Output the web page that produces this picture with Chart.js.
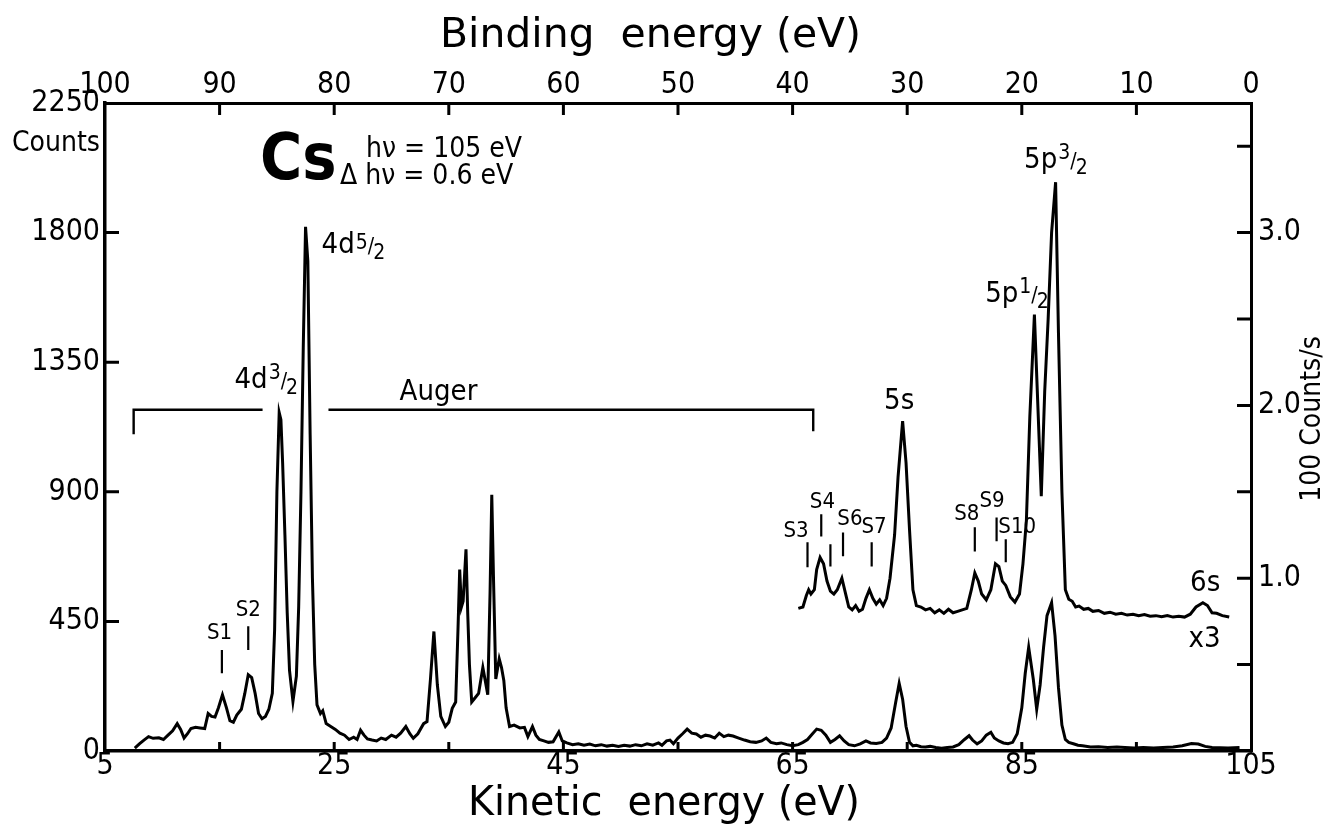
<!DOCTYPE html>
<html><head><meta charset="utf-8">
<script src="https://cdn.jsdelivr.net/npm/chart.js@4.4.1/dist/chart.umd.min.js"></script>
<style>html,body{margin:0;padding:0;background:#fff;}#wrap{width:1331px;height:831px;}</style>
</head><body><div id="wrap"><canvas id="c" width="1331" height="831"></canvas></div>
<script>
const FONT = "'DejaVu Sans Condensed','Liberation Sans Narrow','Arial Narrow',sans-serif";

// ---------- tick labels ----------
const kineticTicks = [5, 25, 45, 65, 85, 105];
const kineticMinor = [15, 35, 55, 75, 95];
const bindingTicks = [100, 90, 80, 70, 60, 50, 40, 30, 20, 10, 0];
const countTicks = [0, 450, 900, 1350, 1800, 2250];
const rateTicks = [0, 0.5, 1.0, 1.5, 2.0, 2.5, 3.0, 3.5];
const rateLabelled = [1.0, 2.0, 3.0];

// ---------- main spectrum (kinetic energy eV, counts) ----------
const mainKE = [7.6,8.0,8.4,8.8,9.2,9.7,10.1,10.5,10.9,11.3,11.6,11.9,12.2,12.5,12.9,13.3,13.7,14.0,14.3,14.6,14.9,15.25,15.6,15.9,16.2,16.5,16.9,17.2,17.5,17.8,18.1,18.4,18.7,19.0,19.3,19.6,19.8,20.0,20.2,20.35,20.5,20.7,20.9,21.1,21.4,21.7,21.9,22.1,22.3,22.5,22.7,22.9,23.1,23.3,23.5,23.8,24.0,24.3,24.7,25.1,25.5,25.9,26.3,26.7,27.0,27.3,27.6,27.9,28.3,28.7,29.1,29.5,30.0,30.4,30.8,31.25,31.6,31.9,32.3,32.8,33.1,33.4,33.7,34.0,34.3,34.7,35.0,35.3,35.6,35.8,35.95,36.1,36.25,36.5,36.65,36.8,37.0,37.3,37.6,37.97,38.2,38.4,38.6,38.75,38.9,39.1,39.4,39.6,39.8,40.0,40.3,40.7,41.2,41.6,41.9,42.3,42.6,42.9,43.3,43.7,44.1,44.6,44.9,45.3,45.8,46.3,46.8,47.3,47.8,48.3,48.8,49.3,49.8,50.3,50.8,51.3,51.8,52.3,52.8,53.3,53.6,54.0,54.3,54.6,55.0,55.4,55.8,56.2,56.6,57.0,57.4,57.8,58.2,58.6,59.0,59.4,59.8,60.3,60.8,61.3,61.8,62.3,62.7,63.1,63.6,64.0,64.5,65.0,65.5,65.9,66.3,66.7,67.1,67.5,67.9,68.3,68.7,69.1,69.5,69.9,70.4,70.9,71.4,71.8,72.3,72.8,73.2,73.6,74.0,74.3,74.6,74.9,75.2,75.5,75.8,76.2,76.6,77.0,77.5,78.0,78.5,79.0,79.5,80.0,80.4,80.7,81.1,81.5,81.9,82.3,82.6,83.0,83.4,83.8,84.2,84.6,85.0,85.3,85.6,86.0,86.3,86.6,86.9,87.2,87.6,87.9,88.2,88.5,88.8,89.1,89.5,89.9,90.3,91.0,91.7,92.5,93.3,94.0,94.8,95.6,96.5,97.3,98.2,99.0,99.8,100.4,101.0,101.6,102.3,103.0,104.0,104.6];
const mainCounts = [10,25,38,50,44,46,40,55,70,95,75,45,60,78,82,80,78,130,120,118,150,195,150,105,100,125,145,200,265,255,200,130,112,120,145,200,420,900,1175,1150,1000,750,480,280,172,260,500,900,1400,1820,1700,1100,600,300,160,130,140,95,85,75,62,55,40,48,40,72,55,42,38,35,45,40,55,48,62,85,60,44,60,95,102,250,415,230,120,85,100,148,170,420,630,500,520,700,480,300,170,185,200,290,240,195,550,890,600,250,320,290,245,150,85,90,80,82,50,85,55,40,35,30,32,66,35,28,22,25,20,24,18,22,17,20,16,20,17,22,18,25,20,28,20,35,38,25,45,60,76,62,59,48,55,52,45,62,50,55,52,45,38,32,30,35,45,30,25,28,22,18,22,30,40,58,76,72,55,30,40,53,35,22,18,25,35,28,26,30,45,80,170,235,180,85,30,18,20,15,14,16,12,10,12,14,22,40,53,38,25,35,55,65,45,35,28,25,30,60,150,270,360,250,145,230,360,470,515,400,220,90,40,30,25,20,18,14,15,12,14,12,10,12,10,12,14,18,26,24,16,12,11,10,12];

// ---------- x3 magnified trace (kinetic energy eV, counts on left scale) ----------
const x3KE = [65.5,65.9,66.2,66.4,66.6,66.9,67.1,67.4,67.7,68.0,68.3,68.6,68.9,69.3,69.6,69.9,70.2,70.5,70.8,71.1,71.4,71.7,72.0,72.3,72.6,72.9,73.2,73.5,73.9,74.2,74.6,74.9,75.2,75.5,75.8,76.2,76.6,77.0,77.4,77.8,78.2,78.6,79.0,79.4,79.8,80.2,80.6,80.9,81.2,81.5,81.9,82.3,82.7,83.0,83.3,83.6,84.0,84.4,84.8,85.1,85.4,85.7,86.1,86.4,86.7,87.0,87.3,87.6,87.95,88.2,88.5,88.8,89.1,89.4,89.7,90.0,90.4,90.8,91.2,91.7,92.2,92.7,93.2,93.7,94.2,94.7,95.2,95.7,96.2,96.7,97.2,97.7,98.2,98.7,99.2,99.7,100.2,100.8,101.2,101.6,102.0,102.5,103.1];
const x3Counts = [495,500,540,560,545,560,630,672,650,590,555,545,560,600,550,500,490,505,485,492,530,560,530,510,525,505,530,600,750,950,1145,1000,770,560,505,500,490,495,480,490,478,492,480,485,490,495,560,618,590,545,525,560,650,640,590,575,535,517,545,650,800,1160,1515,1200,885,1250,1500,1800,1975,1450,900,560,527,520,500,503,492,495,485,488,478,482,475,478,472,475,470,474,468,470,466,470,465,468,465,475,500,515,505,480,478,470,465];

// ---------- satellite markers ----------
const satNames   = ['S1','S2','S3','S4','','S6','S7','S8','S9','S10'];
const satKE      = [15.2,17.5,66.3,67.5,68.3,69.4,71.9,80.9,82.8,83.6];
const satLow     = [270,351,638,745,641,676,641,693,728,655];
const satHigh    = [351,433,725,822,718,759,725,777,811,735];
const satLabelKE = [15.0,17.5,65.3,67.6,null,70.0,72.1,80.2,82.4,84.6];
const satLabelCt = [408,488,763,863,null,804,777,822,867,777];

const LINE = 3;

const annotations = {
  id: 'annotations',
  afterDraw(chart) {
    const ctx = chart.ctx, a = chart.chartArea;
    const {x, xTop, y, yR} = chart.scales;
    const px = v => x.getPixelForValue(v), py = v => y.getPixelForValue(v);
    ctx.save();
    ctx.strokeStyle = '#000'; ctx.fillStyle = '#000'; ctx.lineWidth = 3; ctx.lineCap = 'butt';
    // inward ticks
    ctx.beginPath();
    kineticTicks.concat(kineticMinor).forEach(v => { const X = x.getPixelForValue(v); if (v > 5 && v < 105) { ctx.moveTo(X, a.bottom); ctx.lineTo(X, a.bottom - 9); } });
    xTop.ticks.forEach(t => { const X = xTop.getPixelForValue(t.value); if (t.value > 0 && t.value < 100) { ctx.moveTo(X, a.top); ctx.lineTo(X, a.top + 12); } });
    y.ticks.forEach(t => { const Y = y.getPixelForValue(t.value); if (t.value > 0 && t.value < 2250) { ctx.moveTo(a.left, Y); ctx.lineTo(a.left + 14, Y); } });
    yR.ticks.forEach(t => { const Y = yR.getPixelForValue(t.value); if (t.value > 0) { ctx.moveTo(a.right, Y); ctx.lineTo(a.right - 14, Y); } });
    ctx.stroke();

    // Auger bracket
    ctx.lineWidth = 2.4;
    ctx.beginPath();
    ctx.moveTo(px(7.5), py(1100)); ctx.lineTo(px(7.5), py(1185)); ctx.lineTo(px(18.75), py(1185));
    ctx.moveTo(px(24.5), py(1185)); ctx.lineTo(px(66.8), py(1185)); ctx.lineTo(px(66.8), py(1110));
    ctx.stroke();

    // satellite markers
    ctx.lineWidth = 2.2;
    ctx.beginPath();
    satKE.forEach((k, i) => { ctx.moveTo(px(k), py(satLow[i])); ctx.lineTo(px(k), py(satHigh[i])); });
    ctx.stroke();
    ctx.textAlign = 'center'; ctx.textBaseline = 'middle';
    ctx.font = `22px ${FONT}`;
    satNames.forEach((n, i) => { if (n) ctx.fillText(n, px(satLabelKE[i]), py(satLabelCt[i])); });

    // fraction-style labels
    function frac(base, num, den, X, Y, size, numLift) {
      ctx.textAlign = 'left'; ctx.textBaseline = 'middle';
      ctx.font = `${size}px ${FONT}`;
      ctx.fillText(base, X, Y);
      let cx = X + ctx.measureText(base).width + 1;
      const s = Math.round(size * 0.74);
      ctx.font = `${s}px ${FONT}`;
      ctx.fillText(num, cx, Y - numLift);
      cx += ctx.measureText(num).width;
      ctx.fillText('/', cx, Y + 2);
      cx += ctx.measureText('/').width - 1;
      ctx.fillText(den, cx, Y + size * 0.27);
    }
    frac('4d', '5', '2', px(23.9), py(1755), 29, 2);
    frac('4d', '3', '2', px(16.3), py(1285), 29, 7);
    frac('5p', '1', '2', px(81.8), py(1585), 29, 7);
    frac('5p', '3', '2', px(85.2), py(2050), 29, 7);

    ctx.textAlign = 'center'; ctx.textBaseline = 'middle';
    ctx.font = `29px ${FONT}`;
    ctx.fillText('Auger', px(34.1), py(1245));
    ctx.fillText('5s', px(74.3), py(1214));
    ctx.fillText('6s', px(101.0), py(583));
    ctx.fillText('x3', px(100.95), py(388));

    // element / photon energy
    ctx.textAlign = 'left';
    ctx.font = `bold 64px ${FONT}`;
    ctx.fillText('Cs', 260, 162);
    ctx.font = `28px ${FONT}`;
    ctx.fillText('hν = 105 eV', 366, 150);
    ctx.fillText('Δ hν = 0.6 eV', 340, 177);

    // axis titles
    ctx.font = `28px ${FONT}`;
    ctx.textAlign = 'left';
    ctx.fillText('Counts', 12, 144);

    function stretchTitle(text, left, right, cy, size) {
      ctx.save();
      ctx.font = `${size}px ${FONT}`;
      ctx.textAlign = 'center';
      const natural = ctx.measureText(text).width;
      const sx = (right - left) / natural;
      ctx.translate((left + right) / 2, cy);
      ctx.scale(sx, 1);
      ctx.fillText(text, 0, 0);
      ctx.restore();
    }
    stretchTitle('Binding  energy (eV)', 440, 861, 37, 40);
    stretchTitle('Kinetic  energy (eV)', 468, 860, 805, 40);

    ctx.save();
    ctx.translate(1313, 419); ctx.rotate(-Math.PI / 2);
    ctx.textAlign = 'center';
    ctx.font = `28px ${FONT}`;
    ctx.fillText('100 Counts/s', 0, 0);
    ctx.restore();
    ctx.restore();
  }
};

const tickFont = { family: FONT, size: 30 };
new Chart(document.getElementById('c'), {
  type: 'scatter',
  data: {
    datasets: [
      { label: 'Cs spectrum', data: mainKE.map((k, i) => ({x: k, y: mainCounts[i]})), showLine: true, borderColor: '#000', borderWidth: LINE, pointRadius: 0, tension: 0, xAxisID: 'x', yAxisID: 'y' },
      { label: 'x3', data: x3KE.map((k, i) => ({x: k, y: x3Counts[i]})), showLine: true, borderColor: '#000', borderWidth: LINE, pointRadius: 0, tension: 0, xAxisID: 'x', yAxisID: 'y' }
    ]
  },
  options: {
    responsive: false, animation: false,
    layout: { padding: 0 },
    plugins: { legend: { display: false }, tooltip: { enabled: false }, title: { display: false } },
    scales: {
      x: { type: 'linear', position: 'bottom', min: 5, max: 105,
        afterBuildTicks: s => { s.ticks = kineticTicks.map(v => ({value: v})); },
        afterFit: s => { s.height = 80; },
        ticks: { font: tickFont, color: '#000', padding: -3, maxRotation: 0, autoSkip: false, callback: v => String(v) },
        grid: { display: false, drawTicks: false }, border: { display: true, color: '#000', width: 3.5 } },
      xTop: { type: 'linear', position: 'top', min: 0, max: 100, reverse: true,
        afterBuildTicks: s => { s.ticks = bindingTicks.map(v => ({value: v})); },
        afterFit: s => { s.height = 103; },
        ticks: { font: tickFont, color: '#000', padding: 0, maxRotation: 0, autoSkip: false, callback: v => String(v) },
        grid: { display: false, drawTicks: false }, border: { display: true, color: '#000', width: 3 } },
      y: { type: 'linear', position: 'left', min: 0, max: 2250,
        afterBuildTicks: s => { s.ticks = countTicks.map(v => ({value: v})); },
        afterFit: s => { s.width = 105; },
        ticks: { font: tickFont, color: '#000', padding: 5, autoSkip: false, callback: v => String(v) },
        grid: { display: false, drawTicks: false }, border: { display: true, color: '#000', width: 3.5 } },
      yR: { type: 'linear', position: 'right', min: 0, max: 3.75,
        afterBuildTicks: s => { s.ticks = rateTicks.map(v => ({value: v})); },
        afterFit: s => { s.width = 80; },
        ticks: { font: tickFont, color: '#000', padding: 7, autoSkip: false,
          callback: v => rateLabelled.includes(v) ? v.toFixed(1) : '' },
        grid: { display: false, drawTicks: false }, border: { display: true, color: '#000', width: 3 } }
    }
  },
  plugins: [annotations]
});
</script></body></html>
